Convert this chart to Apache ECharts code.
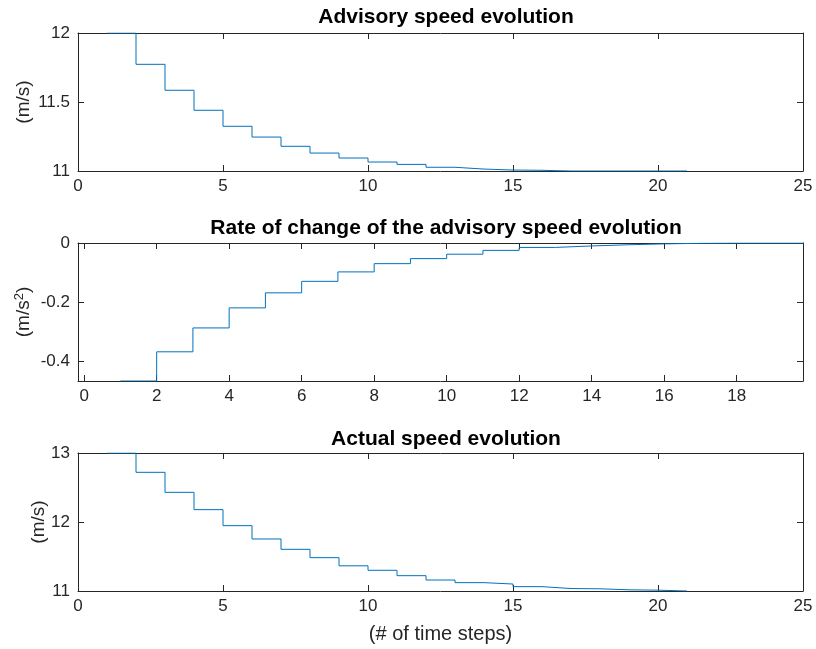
<!DOCTYPE html>
<html>
<head>
<meta charset="utf-8">
<script src="https://cdn.jsdelivr.net/npm/echarts@6/dist/echarts.min.js"></script>
<style>
  html, body { margin: 0; padding: 0; background: #fff; }
  #chart { width: 816px; height: 649px; }
</style>
</head>
<body>
<div id="chart"></div>
<script>
// Time step indices for each panel
var speedSteps = [1, 2, 3, 4, 5, 6, 7, 8, 9, 10, 11, 12, 13, 14, 15, 16, 17, 18, 19, 20, 21];
var rateSteps = [1, 2, 3, 4, 5, 6, 7, 8, 9, 10, 11, 12, 13, 14, 15, 16, 17, 18, 19, 20];

// Advisory speed (m/s)
var advisorySpeed = [12, 11.773, 11.585, 11.440, 11.324, 11.246, 11.179, 11.130, 11.094, 11.065,
  11.048, 11.027, 11.014, 11.007, 11.005, 11.0, 11.0, 11.0, 11.0, 11.0, 11.0];

// Rate of change of the advisory speed (m/s^2)
var advisoryRate = [-0.468, -0.369, -0.288, -0.220, -0.169, -0.130, -0.098, -0.070, -0.053, -0.038,
  -0.025, -0.015, -0.010, -0.006, -0.003, -0.001, 0, 0, 0, 0];

// Actual speed (m/s)
var actualSpeed = [13, 12.720, 12.430, 12.179, 11.947, 11.754, 11.604, 11.483, 11.365, 11.300,
  11.222, 11.159, 11.121, 11.101, 11.063, 11.036, 11.032, 11.017, 11.012, 11.0, 11.0];

// Tick labels
var speedXTicks = [0, 5, 10, 15, 20, 25];
var rateXTicks = [0, 2, 4, 6, 8, 10, 12, 14, 16, 18];
var advisoryYTicks = [11, 11.5, 12];
var rateYTicks = [-0.4, -0.2, 0];
var actualYTicks = [11, 12, 13];

var titles = ['Advisory speed evolution', 'Rate of change of the advisory speed evolution', 'Actual speed evolution'];

var INK = '#262626';
var LINE = '#0072BD';
var FONT = 'Liberation Sans, Arial, sans-serif';
var TICK_FS = 17;
var LABEL_FS = 19;
var XLABEL_FS = 20;
var TITLE_FS = 21;

function pairs(xs, ys) {
  return xs.map(function (x, i) { return [x, ys[i]]; });
}

var grids = [
  { left: 78, width: 725, top: 33, height: 138 },
  { left: 78, width: 725, top: 243, height: 138 },
  { left: 78, width: 725, top: 453, height: 138 }
];

var ranges = [
  { xmin: 0, xmax: 25, xticks: speedXTicks, ymin: 11, ymax: 12, yticks: advisoryYTicks, yname: '(m/s)', gap: 45 },
  { xmin: -0.17, xmax: 19.83, xticks: rateXTicks, ymin: -0.468, ymax: 0, yticks: rateYTicks, yname: '(m/s{sup|2})', gap: 43 },
  { xmin: 0, xmax: 25, xticks: speedXTicks, ymin: 11, ymax: 13, yticks: actualYTicks, yname: '(m/s)', gap: 30 }
];

var xAxes = [], yAxes = [], series = [];
var tickLen = 6;

ranges.forEach(function (r, g) {
  var baseLine = { show: true, onZero: false, lineStyle: { color: INK, width: 1 } };
  // bottom x axis with labels
  xAxes.push({
    type: 'value', gridIndex: g, position: 'bottom', min: r.xmin, max: r.xmax,
    axisLine: baseLine,
    axisTick: { show: true, inside: true, length: tickLen, customValues: r.xticks, lineStyle: { color: INK } },
    axisLabel: { show: true, customValues: r.xticks, color: INK, fontFamily: FONT, fontSize: TICK_FS, margin: 7 },
    splitLine: { show: false },
    name: g === 2 ? '(# of time steps)' : '',
    nameLocation: 'middle', nameGap: 33, nameMoveOverlap: false,
    nameTextStyle: { color: INK, fontFamily: FONT, fontSize: XLABEL_FS }
  });
  // top x axis (box edge)
  xAxes.push({
    type: 'value', gridIndex: g, position: 'top', min: r.xmin, max: r.xmax,
    axisLine: baseLine,
    axisTick: { show: true, inside: true, length: tickLen, customValues: r.xticks, lineStyle: { color: INK } },
    axisLabel: { show: false },
    splitLine: { show: false }
  });
  // left y axis with labels
  yAxes.push({
    type: 'value', gridIndex: g, position: 'left', min: r.ymin, max: r.ymax,
    axisLine: baseLine,
    axisTick: { show: true, inside: true, length: tickLen, customValues: r.yticks, lineStyle: { color: INK } },
    axisLabel: { show: true, customValues: r.yticks, color: INK, fontFamily: FONT, fontSize: TICK_FS, margin: 8 },
    splitLine: { show: false },
    name: r.yname, nameLocation: 'middle', nameGap: r.gap, nameRotate: 90, nameMoveOverlap: false,
    nameTextStyle: {
      color: INK, fontFamily: FONT, fontSize: LABEL_FS,
      rich: { sup: { fontSize: 13, verticalAlign: 'top', lineHeight: 22, fontFamily: FONT, color: INK } }
    }
  });
  // right y axis (box edge)
  yAxes.push({
    type: 'value', gridIndex: g, position: 'right', min: r.ymin, max: r.ymax,
    axisLine: baseLine,
    axisTick: { show: true, inside: true, length: tickLen, customValues: r.yticks, lineStyle: { color: INK } },
    axisLabel: { show: false },
    splitLine: { show: false }
  });
});

var panelData = [
  pairs(speedSteps, advisorySpeed),
  pairs(rateSteps, advisoryRate),
  pairs(speedSteps, actualSpeed)
];

panelData.forEach(function (d, g) {
  series.push({
    type: 'line', xAxisIndex: g * 2, yAxisIndex: g * 2,
    data: d, step: 'end', symbol: 'none', clip: true,
    lineStyle: { color: LINE, width: 1 }, animation: false
  });
});

var titleTops = [2, 213, 424];
var chart = echarts.init(document.getElementById('chart'));
chart.setOption({
  backgroundColor: '#ffffff',
  animation: false,
  title: titles.map(function (t, i) {
    return {
      text: t, left: 441, top: titleTops[i], textAlign: 'center',
      textStyle: { color: '#000', fontFamily: FONT, fontSize: TITLE_FS, fontWeight: 'bold' }
    };
  }),
  grid: grids,
  xAxis: xAxes,
  yAxis: yAxes,
  series: series
});
</script>
</body>
</html>
